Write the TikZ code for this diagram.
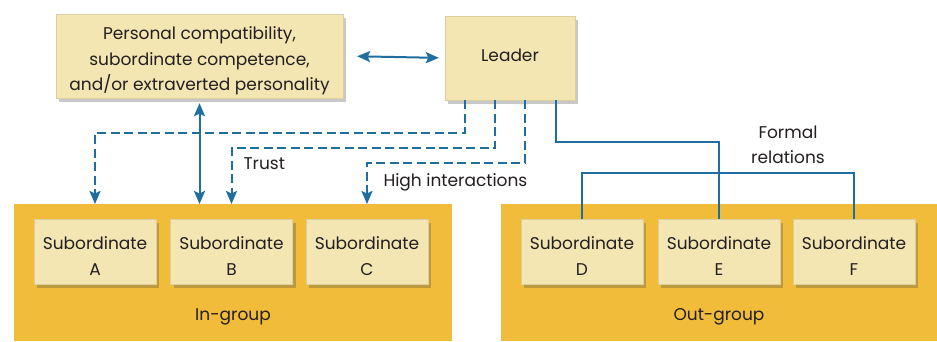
\documentclass[tikz,border=0pt]{standalone}
\usepackage{fontspec}
\setmainfont{Poppins}
\usepackage{tikz}
\usetikzlibrary{arrows.meta, positioning, calc, shadows}
\definecolor{wireblue}{HTML}{1E6EA0}
\definecolor{cardbg}{HTML}{F3E6B2}
\definecolor{groupbg}{HTML}{F0BC3A}
\definecolor{inktext}{HTML}{231F20}
\newcommand{\liftstrut}[1]{\rule{0pt}{#1}}

\begin{document}
\begin{tikzpicture}[
  x=1pt, y=-1pt,
  every node/.style={font=\fontsize{17}{25.5}\selectfont, text=inktext},
  card/.style={
    rectangle, fill=cardbg, draw=cardbg!90!black, line width=0.3pt,
    align=center, inner sep=2pt,
    drop shadow={shadow xshift=3pt, shadow yshift=-4pt, opacity=0.3, fill=black!70}
  },
  subbox/.style={card, minimum width=122pt, minimum height=65pt},
  grpbox/.style={rectangle, fill=groupbg, inner sep=0pt, anchor=north west, minimum height=137pt},
  wire/.style={draw=wireblue, line width=2pt},
  tip/.tip={Stealth[length=13pt, width=11pt, inset=2.5pt]},
  dualarr/.style={wire, tip-tip},
  dasharr/.style={wire, dash pattern=on 9pt off 4.5pt, -tip}
]
\useasboundingbox[fill=white] (0,0) rectangle (937,341);

% groups
\node[grpbox, minimum width=438pt] (ingrp)  at (14,204)  {};
\node[grpbox, minimum width=436pt] (outgrp) at (501,204) {};
\node (inlbl)  at (233,317) {In-group};
\node (outlbl) at (719,317) {Out-group};

% top row
\node[card, minimum width=287pt, minimum height=84pt] (traits) at (199.5,56)
  {\liftstrut{23pt}Personal compatibility,\\subordinate competence,\\and/or extraverted personality};
\node[card, minimum width=130pt, minimum height=84pt, text depth=6pt] (leader) at (510,58) {Leader};

% subordinates
\node[subbox] (subA) at (95,251.5)    {\liftstrut{22pt}Subordinate\\A};
\node[subbox] (subB) at (231.5,251.5) {\liftstrut{22pt}Subordinate\\B};
\node[subbox] (subC) at (367,251.5)   {\liftstrut{22pt}Subordinate\\C};
\node[subbox] (subD) at (582,251.5)   {\liftstrut{22pt}Subordinate\\D};
\node[subbox] (subE) at (719,251.5)   {\liftstrut{22pt}Subordinate\\E};
\node[subbox] (subF) at (854,251.5)   {\liftstrut{22pt}Subordinate\\F};

% labels
\node[anchor=west] (trustlbl) at (240,164) {Trust};
\node[anchor=west] (highlbl)  at (380,182) {High interactions};
\node[align=center] (formallbl) at (788,145) {Formal\\relations};

% route levels
\coordinate (lvlA)  at (0,133);
\coordinate (lvlB)  at (0,148);
\coordinate (lvlC)  at (0,163);
\coordinate (lvlE)  at (0,142);
\coordinate (lvlDF) at (0,173);

\draw[dualarr, shorten <=14pt, shorten >=6pt] (traits.east) -- (leader.west);
\draw[dualarr] ([yshift=-5pt]traits.south) -- (traits.south |- ingrp.north);

\draw[dasharr] ([xshift=-45pt]leader.south) |- (subA |- lvlA) -- (subA |- ingrp.north);
\draw[dasharr] ([xshift=-15pt]leader.south) |- (subB |- lvlB) -- (subB |- ingrp.north);
\draw[dasharr] ([xshift=15pt]leader.south)  |- (subC |- lvlC) -- (subC |- ingrp.north);

\draw[wire] ([xshift=46pt]leader.south) |- (subE |- lvlE) -- (subE.north);
\draw[wire] (subD.north) |- (subF |- lvlDF) -- (subF.north);
\end{tikzpicture}
\end{document}
